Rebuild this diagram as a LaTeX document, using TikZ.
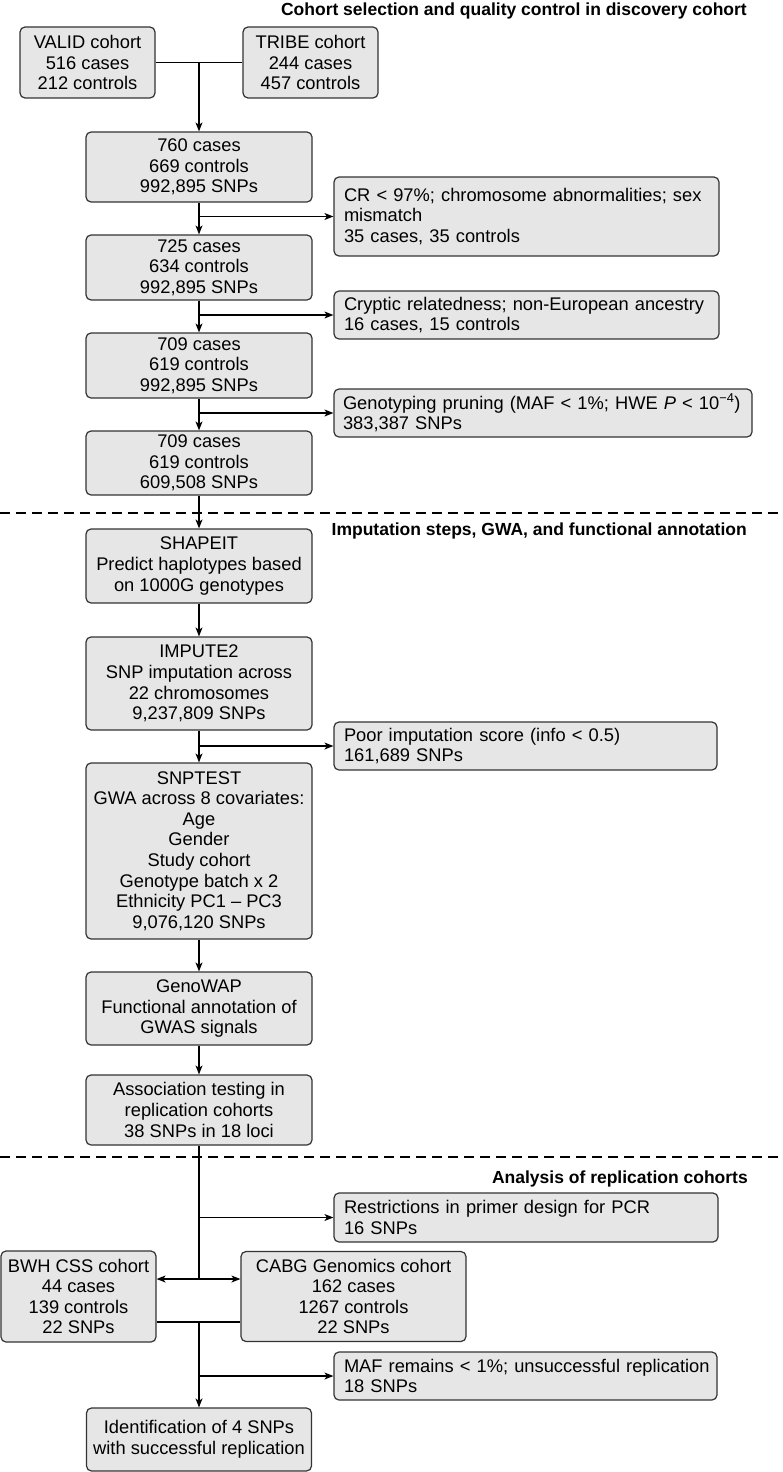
\documentclass[tikz,border=0pt]{standalone}
\usepackage{fontspec}
\setmainfont{Liberation Sans}
\usetikzlibrary{arrows.meta,calc}
\definecolor{boxfill}{HTML}{E6E6E6}
\definecolor{boxline}{HTML}{333333}
\tikzset{
  box/.style={draw=boxline, fill=boxfill, rounded corners=5pt, line width=1.2pt,
    align=center, font=\fontsize{18.3}{20.6}\selectfont, inner sep=0pt},
  side/.style={box, align=left, inner xsep=10pt},
  conn/.style={line width=1.1pt},
  arr/.style={conn, -{Stealth[length=9pt,width=7pt,inset=2.5pt]}},
  dbl/.style={conn, {Stealth[length=9pt,width=7pt,inset=2.5pt]}-{Stealth[length=9pt,width=7pt,inset=2.5pt]}},
  divider/.style={line width=2.2pt, dash pattern=on 10pt off 6pt},
  title/.style={font=\bfseries\fontsize{17.5}{20}\selectfont, anchor=base east, inner sep=0pt}
}
\begin{document}
\begin{tikzpicture}[x=1pt,y=1pt]
\useasboundingbox (0,0) rectangle (782,-1472);

% titles
\node[title] (t1) at (747,-16) {Cohort selection and quality control in discovery cohort};
\node[title] (t2) at (747,-535) {Imputation steps, GWA, and functional annotation};
\node[title] (t3) at (748,-1183) {Analysis of replication cohorts};

% dividers
\draw[divider] (0,-513) -- (782,-513);
\draw[divider] (0,-1157) -- (782,-1157);

% main boxes
\node[box, minimum width=135pt, minimum height=71pt] (valid) at (87.5,-62.5) {VALID cohort\\516 cases\\212 controls};
\node[box, minimum width=135pt, minimum height=71pt] (tribe) at (310.5,-62.5) {TRIBE cohort\\244 cases\\457 controls};
\node[box, minimum width=226pt, minimum height=70pt] (b1) at (199,-167) {760 cases\\669 controls\\992,895 SNPs};
\node[box, minimum width=226pt, minimum height=65pt] (b2) at (199,-267.5) {725 cases\\634 controls\\992,895 SNPs};
\node[box, minimum width=226pt, minimum height=65pt] (b3) at (199,-365.5) {709 cases\\619 controls\\992,895 SNPs};
\node[box, minimum width=226pt, minimum height=64pt] (b4) at (199,-463) {709 cases\\619 controls\\609,508 SNPs};
\node[box, minimum width=226pt, minimum height=74pt] (shapeit) at (199,-566) {SHAPEIT\\Predict haplotypes based\\on 1000G genotypes};
\node[box, minimum width=226pt, minimum height=93pt] (impute) at (199,-683.5) {IMPUTE2\\SNP imputation across\\22 chromosomes\\9,237,809 SNPs};
\node[box, minimum width=226pt, minimum height=176pt] (snptest) at (199,-851) {SNPTEST\\GWA across 8 covariates:\\Age\\Gender\\Study cohort\\Genotype batch x 2\\Ethnicity PC1 – PC3\\9,076,120 SNPs};
\node[box, minimum width=226pt, minimum height=73pt] (genowap) at (199,-1008.5) {GenoWAP\\Functional annotation of\\GWAS signals};
\node[box, minimum width=226pt, minimum height=70pt] (assoc) at (199,-1110) {Association testing in\\replication cohorts\\38 SNPs in 18 loci};
\node[box, minimum width=155pt, minimum height=91pt] (bwh) at (78.5,-1296.5) {BWH CSS cohort\\44 cases\\139 controls\\22 SNPs};
\node[box, minimum width=225pt, minimum height=90pt] (cabg) at (353.5,-1296.5) {CABG Genomics cohort\\162 cases\\1267 controls\\22 SNPs};
\node[box, minimum width=225pt, minimum height=63pt] (final) at (199,-1439.5) {Identification of 4 SNPs\\with successful replication};

% side boxes
\node[side, text width=365pt, minimum height=79pt] (s1) at (526.5,-216.5) {CR < 97\%; chromosome abnormalities; sex\\mismatch\\35 cases, 35 controls};
\node[side, text width=365pt, minimum height=48pt] (s2) at (526.5,-315) {\mbox{Cryptic relatedness; non-European ancestry}\\16 cases, 15 controls};
\node[side, inner xsep=9pt, text width=400pt, minimum height=48pt] (s3) at (543,-413) {\mbox{Genotyping pruning (MAF < 1\%; HWE \textit{P} < 10\textsuperscript{−4})}\\383,387 SNPs};
\node[side, text width=363pt, minimum height=48pt] (s4) at (525.5,-746) {Poor imputation score (info < 0.5)\\161,689 SNPs};
\node[side, text width=364pt, minimum height=49pt] (s5) at (526,-1217.5) {Restrictions in primer design for PCR\\16 SNPs};
\node[side, text width=363pt, minimum height=48pt] (s6) at (525.5,-1376) {\mbox{MAF remains < 1\%; unsuccessful replication}\\18 SNPs};

% top merge
\coordinate (j1) at (199,-62.5);
\draw[conn] (valid.east) -- (tribe.west);
\draw[arr] (j1) -- (b1.north);

% QC chain
\draw[arr] (b1.south) -- (b2.north);
\draw[arr] (b1.south |- s1.west) -- (s1.west);
\draw[arr] (b2.south) -- (b3.north);
\draw[arr] (b2.south |- s2.west) -- (s2.west);
\draw[arr] (b3.south) -- (b4.north);
\draw[arr] (b3.south |- s3.west) -- (s3.west);
\draw[arr] (b4.south) -- (shapeit.north);

% imputation chain
\draw[arr] (shapeit.south) -- (impute.north);
\draw[arr] (impute.south) -- (snptest.north);
\draw[arr] (impute.south |- s4.west) -- (s4.west);
\draw[arr] (snptest.south) -- (genowap.north);
\draw[arr] (genowap.south) -- (assoc.north);

% replication
\coordinate (j2) at (199,-1279);
\draw[conn] (assoc.south) -- (j2);
\draw[arr] (assoc.south |- s5.west) -- (s5.west);
\draw[dbl] (j2 -| bwh.east) -- (j2 -| cabg.west);
\coordinate (j3) at (199,-1322);
\draw[conn] (j3 -| bwh.east) -- (j3 -| cabg.west);
\draw[arr] (j3) -- (final.north);
\draw[arr] (j3 |- s6.west) -- (s6.west);
\end{tikzpicture}
\end{document}
